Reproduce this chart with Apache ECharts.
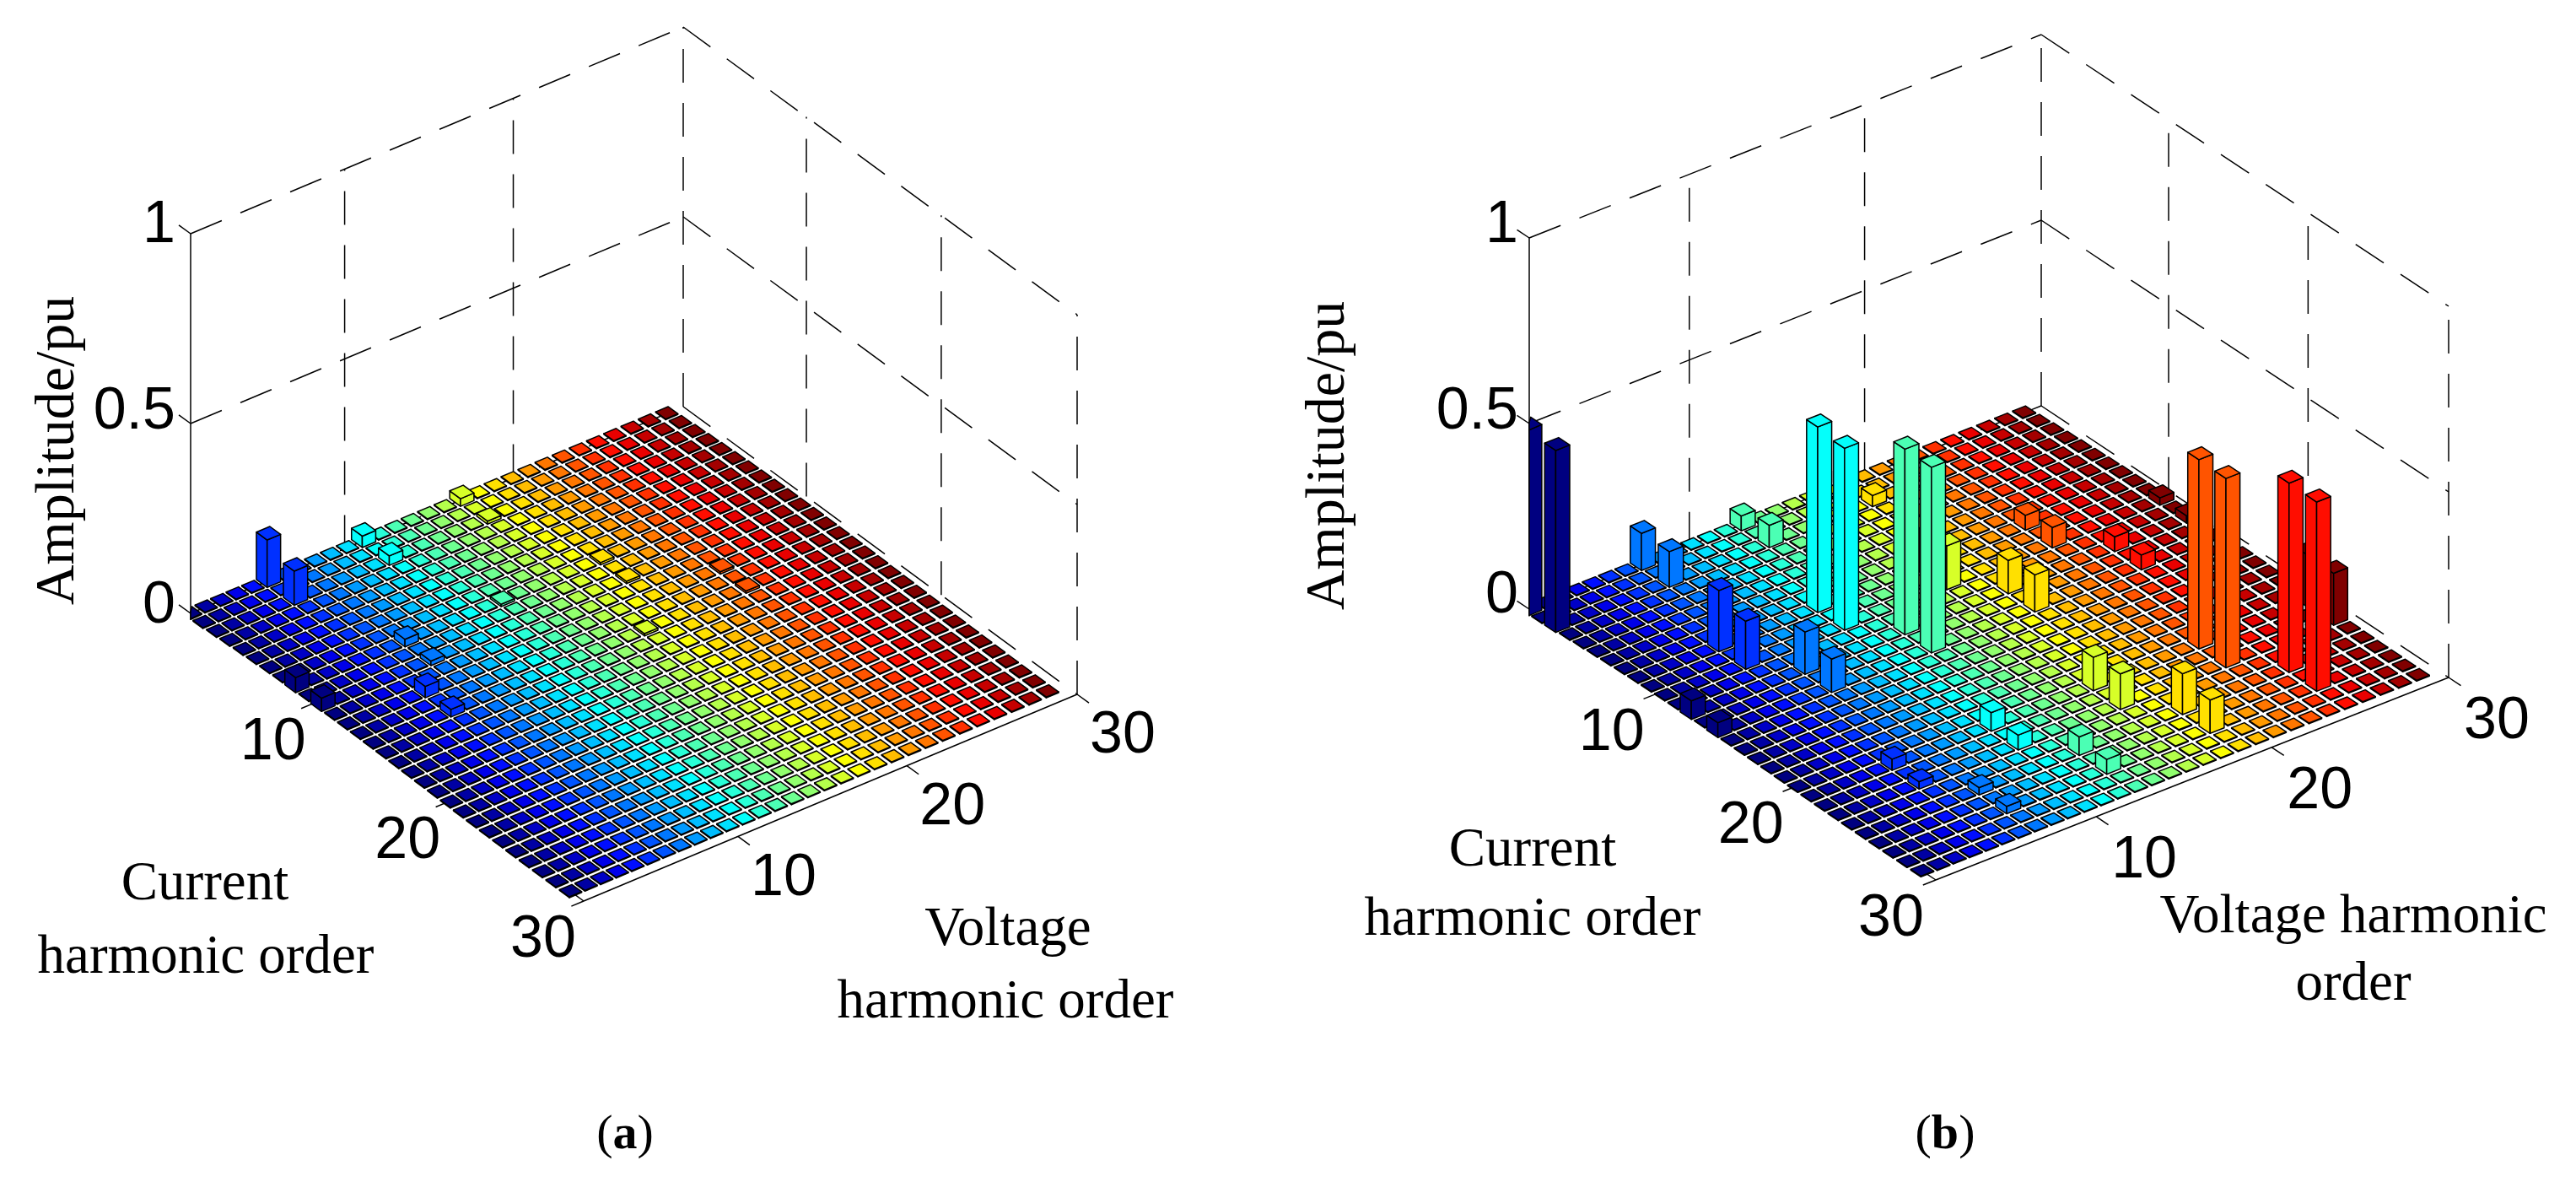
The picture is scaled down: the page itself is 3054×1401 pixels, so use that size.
<!DOCTYPE html>
<html lang="en">
<head>
<meta charset="UTF-8">
<title>Harmonic amplitude</title>
<script src="https://cdn.jsdelivr.net/npm/echarts@6/dist/echarts.min.js"></script>
<style>
  html, body { margin: 0; padding: 0; background: #fff; overflow: hidden; }
  #chart { width: 3054px; height: 1401px; }
</style>
</head>
<body>
<div id="chart"></div>
<script>
// axis ticks and bar rows
var currentOrders = [0,1,2,3,4,5,6,7,8,9,10,11,12,13,14,15,16,17,18,19,20,21,22,23,24,25,26,27,28,29];
var voltageOrders = [1,2,3,4,5,6,7,8,9,10,11,12,13,14,15,16,17,18,19,20,21,22,23,24,25,26,27,28,29,30];
var orderTicks = [10, 20, 30];
var amplitudeTicks = [0, 0.5, 1];
var floorAmp = 0.002;

// panel (a), bars that stand above the floor
var currentA = [0, 2, 0, 2, 0, 2, 8, 10, 8, 10, 12, 14, 10, 8, 14, 12, 14, 8];
var voltageA = [6, 6, 12, 12, 18, 18, 1, 1, 8, 8, 6, 6, 20, 20, 18, 24, 24, 14];
var ampA = [0.125, 0.09, 0.03, 0.025, 0.02, 0.008, 0.04, 0.035, 0.02, 0.012, 0.03, 0.02, 0.006, 0.006, 0.006, 0.006, 0.006, 0.006];

// panel (b)
var currentB = [0, 2, 12, 14, 0, 2, 8, 10, 8, 10, 12, 14, 12, 14, 0, 2, 0, 2, 8, 10, 12, 14, 21, 23, 25, 27, 21, 23, 25, 27, 21, 23, 25, 27, 8, 10, 12, 14, 10, 12, 21, 23, 21, 23, 25, 27];
var voltageB = [1, 1, 1, 1, 8, 8, 6, 6, 12, 12, 14, 14, 8, 8, 14, 14, 20, 20, 18, 18, 20, 20, 18, 18, 20, 20, 12, 12, 14, 14, 6, 6, 8, 8, 24, 24, 26, 26, 30, 30, 30, 30, 24, 24, 26, 26];
var ampB = [0.5, 0.49, 0.05, 0.04, 0.1, 0.096, 0.165, 0.13, 0.5, 0.49, 0.5, 0.5, 0.114, 0.09, 0.04, 0.06, 0.03, 0.03, 0.118, 0.118, 0.09, 0.1, 0.09, 0.096, 0.11, 0.09, 0.05, 0.04, 0.05, 0.04, 0.03, 0.02, 0.02, 0.02, 0.04, 0.055, 0.04, 0.04, 0.02, 0.02, 0.14, 0.14, 0.51, 0.51, 0.51, 0.51];

// screen frame of each 3D box
var panelA = {
    left: [226, 727], front: [692, 1068], right: [1277, 823], back: [810, 482], height: 450,
    currentOffset: [-48, 47], voltageOffset: [54, 50],
    amplitudeX: 208, amplitudeY: [719, 489, 268],
    axisTitle: [70, 534], caption: [741, 1346],
    texts: [['Current', 243, 1049], ['harmonic order', 244, 1136], ['Voltage', 1195, 1103], ['harmonic order', 1192, 1189]]
};
var panelB = {
    left: [1813, 722], front: [2295, 1043], right: [2903, 803], back: [2420, 481], height: 440,
    currentOffset: [-53, 47], voltageOffset: [57, 53],
    amplitudeX: 1800, amplitudeY: [707, 489, 268],
    axisTitle: [1576, 540], caption: [2306, 1346],
    texts: [['Current', 1817, 1009], ['harmonic order', 1817, 1091], ['Voltage harmonic', 2790, 1088], ['order', 2790, 1168]]
};

// where orders 10, 20, 30 sit along the 0..30 frame
var tickPositions = [9.38, 19.65, 30];
var barWidth = 0.82;
var floorWidth = 0.75;
var sansFont = '"Liberation Sans", Arial, sans-serif';
var serifFont = '"Liberation Serif", "Times New Roman", serif';

function clamp01(x) { return Math.max(0, Math.min(1, x)); }
function jet(t) {
    var r = clamp01(1.5 - Math.abs(4 * t - 3));
    var g = clamp01(1.5 - Math.abs(4 * t - 2));
    var b = clamp01(1.5 - Math.abs(4 * t - 1));
    return 'rgb(' + Math.round(r * 255) + ',' + Math.round(g * 255) + ',' + Math.round(b * 255) + ')';
}

// the bar grid sags a little against the frame between its two ends
function sag(p, depth) { return p - depth * Math.sin(Math.PI * p / 29); }
function bow(c) { return 0.5 * Math.sin(Math.PI * c / 29) * (1 - c / 29); }

// c, v: position along the two floor edges (0..30), z: amplitude
function project(panel, c, v, z) {
    var a = c / 30, b = v / 30;
    var x = (1 - a) * (1 - b) * panel.left[0] + a * (1 - b) * panel.front[0] + a * b * panel.right[0] + (1 - a) * b * panel.back[0];
    var y = (1 - a) * (1 - b) * panel.left[1] + a * (1 - b) * panel.front[1] + a * b * panel.right[1] + (1 - a) * b * panel.back[1];
    return [x, y - z * panel.height];
}

function buildCells(peakCurrent, peakVoltage, peakAmp) {
    var rows = [];
    currentOrders.forEach(function (i) {
        voltageOrders.slice().reverse().forEach(function (j) {
            var amp = floorAmp;
            peakCurrent.forEach(function (pc, k) {
                if (pc === i && peakVoltage[k] === j) amp = peakAmp[k];
            });
            rows.push([i, j, amp]);
        });
    });
    return rows;
}

function barSeries(panel, rows) {
    return {
        type: 'custom',
        coordinateSystem: 'cartesian2d',
        animation: false,
        silent: true,
        progressive: 0,
        z: 3,
        data: rows,
        renderItem: function (params, api) {
            var i = api.value(0), j = api.value(1), amp = api.value(2);
            var cc = sag(i, 0.3), vc = sag(j - 1, 0.5) + bow(i);
            var half = (amp > floorAmp ? barWidth : floorWidth) / 2;
            var c0 = cc - half, c1 = cc + half, v0 = vc - half, v1 = vc + half;
            function pt(c, v, z) {
                var p = project(panel, c, v, z);
                // the picture is cut at the amplitude axis
                return api.coord([Math.max(p[0], panel.left[0]), p[1]]);
            }
            var style = { fill: jet((j - 1) / 29), stroke: '#000', lineWidth: 1.5, lineJoin: 'round' };
            var faces = [
                [pt(c0, v0, 0), pt(c1, v0, 0), pt(c1, v0, amp), pt(c0, v0, amp)],
                [pt(c1, v0, 0), pt(c1, v1, 0), pt(c1, v1, amp), pt(c1, v0, amp)],
                [pt(c0, v0, amp), pt(c1, v0, amp), pt(c1, v1, amp), pt(c0, v1, amp)]
            ];
            return {
                type: 'group',
                children: faces.map(function (f) {
                    return { type: 'polygon', shape: { points: f }, style: style };
                })
            };
        }
    };
}

function frameSegments(panel) {
    var s = [];
    // walls: dashed
    amplitudeTicks.slice(1).forEach(function (z) {
        s.push([0, 0, z, 0, 30, z, 1]);
        s.push([0, 30, z, 30, 30, z, 1]);
    });
    tickPositions.forEach(function (v) { s.push([0, v, 0, 0, v, 1, 1]); });
    tickPositions.forEach(function (c) { s.push([c, 30, 0, c, 30, 1, 1]); });
    s.push([0, 30, 0, 30, 30, 0, 1]);
    s.push([0, 0, 0, 0, 30, 0, 1]);
    // axis lines and ticks: solid
    s.push([0, 0, 0, 0, 0, 1, 0]);
    s.push([30, 0, 0, 30, 30, 0, 0]);
    s.push([29, 0, 0, 30, 0, 0, 0]);
    amplitudeTicks.forEach(function (z) { s.push([0, 0, z, -0.9, 0, z, 0]); });
    tickPositions.forEach(function (c) { s.push([c, 0, 0, c, -0.75, 0, 0]); });
    tickPositions.forEach(function (v) { s.push([30, v, 0, 30.9, v, 0, 0]); });
    return s;
}

function frameSeries(panel) {
    return {
        type: 'custom',
        coordinateSystem: 'cartesian2d',
        animation: false,
        silent: true,
        z: 2,
        data: frameSegments(panel),
        renderItem: function (params, api) {
            var a = api.coord(project(panel, api.value(0), api.value(1), api.value(2)));
            var b = api.coord(project(panel, api.value(3), api.value(4), api.value(5)));
            return {
                type: 'line',
                shape: { x1: a[0], y1: a[1], x2: b[0], y2: b[1] },
                style: { stroke: '#000', lineWidth: 1.5, lineDash: api.value(6) ? [40, 24] : null }
            };
        }
    };
}

function textItem(text, x, y, font, size, extra) {
    var item = { text: text, x: x, y: y, font: font, size: size };
    for (var k in extra) item[k] = extra[k];
    return item;
}

function buildTexts(panel, caption) {
    var t = [];
    orderTicks.forEach(function (o, k) {
        var p = project(panel, tickPositions[k], 0, 0);
        t.push(textItem(String(o), p[0] + panel.currentOffset[0], p[1] + panel.currentOffset[1], sansFont, 70));
        var q = project(panel, 30, tickPositions[k], 0);
        t.push(textItem(String(o), q[0] + panel.voltageOffset[0], q[1] + panel.voltageOffset[1], sansFont, 70));
    });
    amplitudeTicks.forEach(function (z, k) {
        t.push(textItem(String(z), panel.amplitudeX, panel.amplitudeY[k], sansFont, 70, { align: 'right' }));
    });
    t.push(textItem('Amplitude/pu', panel.axisTitle[0], panel.axisTitle[1], serifFont, 66, { rotation: Math.PI / 2 }));
    panel.texts.forEach(function (e) { t.push(textItem(e[0], e[1], e[2], serifFont, 65)); });
    t.push(textItem('({b|' + caption + '})', panel.caption[0], panel.caption[1], serifFont, 58));
    return t;
}

function textSeries(items) {
    return {
        type: 'custom',
        coordinateSystem: 'cartesian2d',
        animation: false,
        silent: true,
        z: 4,
        data: items.map(function (e, i) { return [e.x, e.y, i]; }),
        renderItem: function (params, api) {
            var e = items[api.value(2)];
            var p = api.coord([e.x, e.y]);
            return {
                type: 'text',
                x: p[0],
                y: p[1],
                rotation: e.rotation || 0,
                style: {
                    text: e.text,
                    fill: '#000',
                    fontFamily: e.font,
                    fontSize: e.size,
                    align: e.align || 'center',
                    verticalAlign: 'middle',
                    rich: { b: { fontFamily: e.font, fontSize: e.size, fontWeight: 'bold', fill: '#000' } }
                }
            };
        }
    };
}

var myChart = echarts.init(document.getElementById('chart'), null, { renderer: 'canvas' });
myChart.setOption({
    backgroundColor: '#fff',
    animation: false,
    grid: { left: 0, right: 0, top: 0, bottom: 0 },
    xAxis: { type: 'value', min: 0, max: 3054, show: false },
    yAxis: { type: 'value', min: 0, max: 1401, inverse: true, show: false },
    series: [
        frameSeries(panelA),
        frameSeries(panelB),
        barSeries(panelA, buildCells(currentA, voltageA, ampA)),
        barSeries(panelB, buildCells(currentB, voltageB, ampB)),
        textSeries(buildTexts(panelA, 'a').concat(buildTexts(panelB, 'b')))
    ]
});
</script>
</body>
</html>
